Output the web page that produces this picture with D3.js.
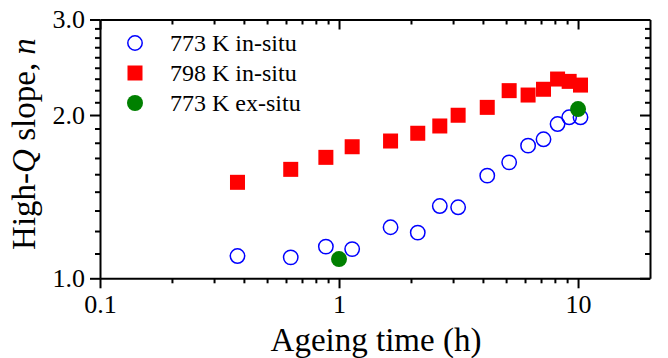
<!DOCTYPE html>
<html>
<head>
<meta charset="utf-8">
<script src="https://cdn.jsdelivr.net/npm/d3@7"></script>
<style>
  body { margin: 0; background: #fff; }
  svg { display: block; font-family: "Liberation Serif", "Times New Roman", serif; }
  svg text { font-family: "Liberation Serif", "Times New Roman", serif; }
</style>
</head>
<body>
<svg width="668" height="358"></svg>
<script>
// ageing time (h), shared by both in-situ runs
const ageingTime = [0.376, 0.628, 0.881, 1.135, 1.643, 2.135, 2.64, 3.15, 4.17, 5.15, 6.18, 7.17, 8.21, 9.18, 10.24];
const slope773inSitu = [1.099, 1.093, 1.144, 1.132, 1.242, 1.214, 1.359, 1.352, 1.546, 1.636, 1.756, 1.804, 1.925, 1.981, 1.981];
const slope798inSitu = [1.503, 1.588, 1.671, 1.748, 1.791, 1.851, 1.909, 1.998, 2.066, 2.218, 2.177, 2.231, 2.33, 2.307, 2.271];
const exSituTime = [1.0, 10.0];
const slope773exSitu = [1.085, 2.051];

const xMajor = [0.1, 1, 10];
const yMajor = [1, 2, 3];

const svg = d3.select("svg");
const plotL = 100, plotR = 650, plotT = 19.5, plotB = 278.3;

const x = d3.scaleLog().domain([0.1, 20]).range([plotL, plotR]);
const y = d3.scaleLog().domain([1, 3]).range([plotB, plotT]);

// minor ticks: log decades on x, 8 linear steps per unit on y (Origin style)
const xMinor = [];
[0.1, 1, 10].forEach(d => {
    for (let k = 2; k <= 9; k++) {
        const v = d * k;
        if (v < 20) xMinor.push(v);
    }
});
const yMinor = [];
[1, 2].forEach(d => {
    for (let k = 1; k <= 8; k++) yMinor.push(d + k / 9);
});

function styleAxis(g) {
    g.attr("font-family", null).attr("font-size", null);
    g.select(".domain").attr("stroke", "#000").attr("stroke-width", 2);
    g.selectAll(".tick line").attr("stroke", "#000").attr("stroke-width", 2);
    g.selectAll(".tick text").attr("fill", "#000").style("font-size", "26px");
}

// bottom axis (ticks out)
svg.append("g").attr("transform", `translate(0,${plotB})`)
    .call(d3.axisBottom(x).tickValues(xMinor).tickSize(5).tickSizeOuter(0).tickFormat(""))
    .call(styleAxis);
svg.append("g").attr("transform", `translate(0,${plotB})`)
    .call(d3.axisBottom(x).tickValues(xMajor).tickSize(10).tickSizeOuter(0).tickPadding(6)
        .tickFormat(d => d < 1 ? "0.1" : String(d)))
    .call(styleAxis)
    .call(g => g.select(".domain").remove());

// top axis (ticks in)
svg.append("g").attr("transform", `translate(0,${plotT})`)
    .call(d3.axisBottom(x).tickValues(xMinor).tickSize(5).tickSizeOuter(0).tickFormat(""))
    .call(styleAxis);
svg.append("g").attr("transform", `translate(0,${plotT})`)
    .call(d3.axisBottom(x).tickValues(xMajor).tickSize(10).tickSizeOuter(0).tickFormat(""))
    .call(styleAxis)
    .call(g => g.select(".domain").remove());

// left axis (ticks out)
svg.append("g").attr("transform", `translate(${plotL},0)`)
    .call(d3.axisLeft(y).tickValues(yMinor).tickSize(5).tickSizeOuter(0).tickFormat(""))
    .call(styleAxis);
svg.append("g").attr("transform", `translate(${plotL},0)`)
    .call(d3.axisLeft(y).tickValues(yMajor).tickSize(10).tickSizeOuter(0).tickPadding(5)
        .tickFormat(d3.format(".1f")))
    .call(styleAxis)
    .call(g => g.select(".domain").remove());

// right axis (ticks in)
svg.append("g").attr("transform", `translate(${plotR},0)`)
    .call(d3.axisLeft(y).tickValues(yMinor).tickSize(5).tickSizeOuter(0).tickFormat(""))
    .call(styleAxis);
svg.append("g").attr("transform", `translate(${plotR},0)`)
    .call(d3.axisLeft(y).tickValues(yMajor).tickSize(10).tickSizeOuter(0).tickFormat(""))
    .call(styleAxis)
    .call(g => g.select(".domain").remove());

// data
const blue = ageingTime.map((t, i) => ({ t, n: slope773inSitu[i] }));
const red = ageingTime.map((t, i) => ({ t, n: slope798inSitu[i] }));
const green = exSituTime.map((t, i) => ({ t, n: slope773exSitu[i] }));

svg.append("g").selectAll("circle").data(blue).enter().append("circle")
    .attr("cx", d => x(d.t)).attr("cy", d => y(d.n)).attr("r", 7.2)
    .attr("fill", "none").attr("stroke", "#0000ff").attr("stroke-width", 1.5);

svg.append("g").selectAll("rect").data(red).enter().append("rect")
    .attr("x", d => x(d.t) - 7.5).attr("y", d => y(d.n) - 7.5)
    .attr("width", 15).attr("height", 15).attr("fill", "#ff0000");

svg.append("g").selectAll("circle").data(green).enter().append("circle")
    .attr("cx", d => x(d.t)).attr("cy", d => y(d.n)).attr("r", 8)
    .attr("fill", "#008000");

// legend
const legend = svg.append("g").style("font-size", "24px");
legend.append("circle").attr("cx", 135).attr("cy", 43).attr("r", 7.2)
    .attr("fill", "none").attr("stroke", "#0000ff").attr("stroke-width", 1.5);
legend.append("rect").attr("x", 127.5).attr("y", 65.5).attr("width", 15).attr("height", 15).attr("fill", "#ff0000");
legend.append("circle").attr("cx", 135).attr("cy", 103).attr("r", 8).attr("fill", "#008000");
["773 K in-situ", "798 K in-situ", "773 K ex-situ"].forEach((s, i) => {
    legend.append("text").attr("x", 170).attr("y", 51 + i * 30).text(s);
});

// axis titles
svg.append("text").attr("x", 376).attr("y", 351).attr("text-anchor", "middle")
    .style("font-size", "33px").text("Ageing time (h)");

const yt = svg.append("text").attr("transform", "translate(35,144) rotate(-90)")
    .attr("text-anchor", "middle").style("font-size", "33px");
yt.append("tspan").text("High-");
yt.append("tspan").attr("font-style", "italic").text("Q");
yt.append("tspan").text(" slope, ");
yt.append("tspan").attr("font-style", "italic").text("n");
</script>
</body>
</html>
